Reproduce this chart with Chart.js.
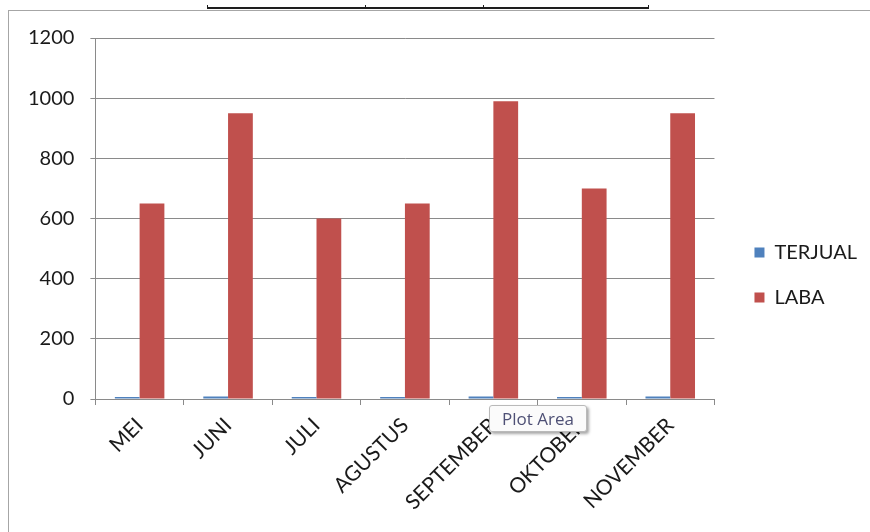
<!DOCTYPE html>
<html>
<head>
<meta charset="utf-8">
<script src="https://cdn.jsdelivr.net/npm/chart.js@4/dist/chart.umd.min.js"></script>
<style>
  html, body { margin: 0; padding: 0; background: #fff; }
  #wrap { position: relative; width: 870px; height: 532px; overflow: hidden; }
  #frame { position: absolute; left: 8px; top: 10px; right: -2px; bottom: -2px; border-left: 1px solid #a6a6a6; border-top: 1px solid #a6a6a6; }
  #topbar { position: absolute; left: 207px; top: 7px; width: 442px; height: 2px; background: #1e1e1e; }
  .tick { position: absolute; top: 5px; width: 1px; height: 4px; background: #1e1e1e; }
  #chartBox { position: absolute; left: 0; top: 0; width: 870px; height: 532px; }
  #tip { position: absolute; left: 489px; top: 405px; width: 96px; height: 25px; background: #fbfbfb; border: 1px solid #b9b9b9; border-radius: 3px;
         box-shadow: 2px 2px 3px rgba(0,0,0,0.35); font: 17px "Open Sans", sans-serif; color: #4e5075; text-align: center; line-height: 25px; }
</style>
</head>
<body>
<div id="wrap">
  <div id="frame"></div>
  <div id="topbar"></div>
  <div class="tick" style="left:207px"></div>
  <div class="tick" style="left:365px"></div>
  <div class="tick" style="left:483px"></div>
  <div class="tick" style="left:648px"></div>
  <div id="chartBox"><canvas id="chart"></canvas></div>
  <div id="tip">Plot Area</div>
</div>
<script>
// data
const months = ['MEI', 'JUNI', 'JULI', 'AGUSTUS', 'SEPTEMBER', 'OKTOBER', 'NOVEMBER'];
const terjual = [7, 8, 7, 7, 8, 7, 8];
const laba = [650, 950, 600, 650, 990, 700, 950];
const yTicks = [0, 200, 400, 600, 800, 1000, 1200];

const gridGrey = '#8a8a8a';
const textCol = '#1a1a1a';

// empty spacer axes so the legend sits where the reference has it
const spacer = (pos, size) => ({
    position: pos,
    grid: { display: false },
    border: { display: false },
    ticks: { display: false },
    afterFit: s => { if (pos === 'top') s.height = size; else s.width = size; }
});

new Chart(document.getElementById('chart'), {
    type: 'bar',
    data: {
        labels: months,
        datasets: [
            { label: 'TERJUAL', data: terjual, backgroundColor: '#4F81BD' },
            { label: 'LABA', data: laba, backgroundColor: '#C0504D' }
        ]
    },
    options: {
        responsive: true,
        maintainAspectRatio: false,
        animation: false,
        datasets: { bar: { categoryPercentage: 0.56, barPercentage: 1 } },
        layout: { padding: { left: 12, top: 27, right: 3, bottom: 9 } },
        scales: {
            x: {
                grid: { drawOnChartArea: false, drawTicks: true, tickLength: 6, color: gridGrey },
                border: { color: gridGrey },
                ticks: { color: textCol, font: { family: 'Lato', size: 21 }, minRotation: 45, maxRotation: 45, padding: 8 }
            },
            x2: spacer('top', 11),
            y: {
                min: 0,
                max: 1200,
                afterBuildTicks: s => { s.ticks = yTicks.map(v => ({ value: v })); },
                grid: { color: gridGrey, tickLength: 5 },
                border: { color: gridGrey },
                ticks: { color: textCol, font: { family: 'Lato', size: 20 }, padding: 16, callback: v => String(v) }
            },
            y2: spacer('right', 15)
        },
        plugins: {
            legend: {
                position: 'right',
                labels: { color: textCol, font: { family: 'Lato', size: 20 }, boxWidth: 10, boxHeight: 10, padding: 25 }
            },
            tooltip: { enabled: false }
        }
    }
});
</script>
</body>
</html>
